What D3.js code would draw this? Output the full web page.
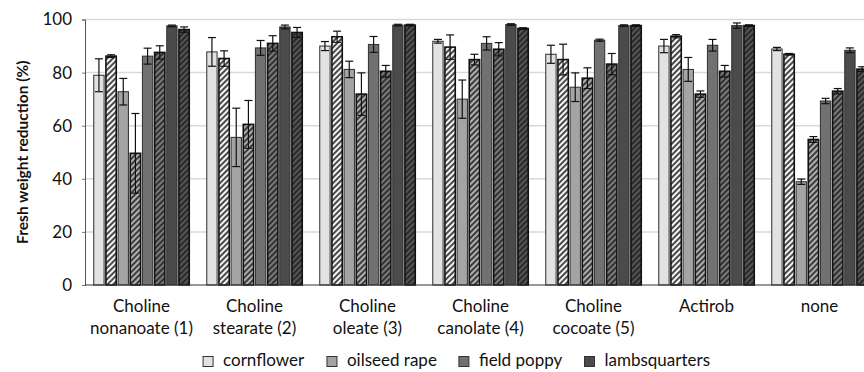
<!DOCTYPE html>
<html>
<head>
<meta charset="utf-8">
<script src="https://cdn.jsdelivr.net/npm/d3@7"></script>
<style>
  body { margin: 0; background: #fff; }
  text { font-family: Lato, "Open Sans", sans-serif; fill: #111; }
</style>
</head>
<body>
<svg id="chart" width="864" height="372"></svg>
<script>
// Treatments (x groups), wrapped onto two lines
const categories = [
  ["Choline", "nonanoate (1)"],
  ["Choline", "stearate (2)"],
  ["Choline", "oleate (3)"],
  ["Choline", "canolate (4)"],
  ["Choline", "cocoate (5)"],
  ["Actirob"],
  ["none"]
];
const species = ["cornflower", "oilseed rape", "field poppy", "lambsquarters"];
const yTicks = [0, 20, 40, 60, 80, 100];

// Fresh weight reduction (%) per treatment; trial 1 = plain bars, trial 2 = hatched bars
const cornflowerTrial1 = [79.0, 87.8, 90.0, 91.8, 86.9, 90.0, 88.9];
const cornflowerTrial1Err = [6.2, 5.4, 1.7, 0.7, 3.4, 2.5, 0.6];
const cornflowerTrial2 = [86.2, 85.3, 93.5, 89.6, 84.9, 93.7, 86.9];
const cornflowerTrial2Err = [0.5, 2.9, 2.1, 4.6, 5.8, 0.6, 0.3];
const oilseedTrial1 = [72.8, 55.6, 81.2, 70.0, 74.5, 81.2, 38.9];
const oilseedTrial1Err = [5.0, 11.0, 3.1, 7.2, 5.4, 4.5, 1.0];
const oilseedTrial2 = [49.6, 60.5, 71.9, 84.9, 77.9, 71.9, 54.8];
const oilseedTrial2Err = [15.0, 9.0, 8.0, 2.0, 3.9, 1.2, 1.1];
const poppyTrial1 = [86.2, 89.3, 90.6, 91.0, 92.2, 90.3, 69.3];
const poppyTrial1Err = [3.0, 2.8, 3.0, 2.5, 0.4, 2.2, 1.0];
const poppyTrial2 = [87.6, 91.0, 80.5, 88.8, 83.2, 80.5, 73.0];
const poppyTrial2Err = [2.5, 2.9, 2.2, 2.5, 4.0, 2.2, 1.0];
const lambsTrial1 = [97.6, 97.2, 97.9, 98.1, 97.7, 97.7, 88.4];
const lambsTrial1Err = [0.3, 0.7, 0.3, 0.3, 0.3, 1.0, 0.9];
const lambsTrial2 = [96.2, 95.1, 97.9, 96.6, 97.7, 97.7, 81.3];
const lambsTrial2Err = [1.0, 1.9, 0.3, 0.3, 0.3, 0.3, 0.9];

// Bar order inside each group
const series = [
  { sp: 0, hatched: false, values: cornflowerTrial1, err: cornflowerTrial1Err },
  { sp: 0, hatched: true,  values: cornflowerTrial2, err: cornflowerTrial2Err },
  { sp: 1, hatched: false, values: oilseedTrial1, err: oilseedTrial1Err },
  { sp: 1, hatched: true,  values: oilseedTrial2, err: oilseedTrial2Err },
  { sp: 2, hatched: false, values: poppyTrial1, err: poppyTrial1Err },
  { sp: 2, hatched: true,  values: poppyTrial2, err: poppyTrial2Err },
  { sp: 3, hatched: false, values: lambsTrial1, err: lambsTrial1Err },
  { sp: 3, hatched: true,  values: lambsTrial2, err: lambsTrial2Err }
];

const speciesFill = ["#e2e2e2", "#a4a4a4", "#717171", "#4b4b4b"];
const hatchBg = ["#f4f4f4", "#b0b0b0", "#7a7a7a", "#555555"];

const svg = d3.select("#chart");
svg.append("rect").attr("width", 864).attr("height", 372).attr("fill", "#fff");

const defs = svg.append("defs");
speciesFill.forEach((c, i) => {
  const p = defs.append("pattern")
    .attr("id", "hatch" + i)
    .attr("patternUnits", "userSpaceOnUse")
    .attr("width", 4).attr("height", 4)
    .attr("patternTransform", "rotate(45)");
  p.append("rect").attr("width", 4).attr("height", 4).attr("fill", hatchBg[i]);
  p.append("line").attr("x1", 1).attr("y1", 0).attr("x2", 1).attr("y2", 4)
    .attr("stroke", "#1e1e1e").attr("stroke-width", 1.6);
});

const plot = { left: 85, top: 19.5, bottom: 285, groupStep: 113 };
const x0 = d3.scaleBand()
  .domain(d3.range(categories.length))
  .range([plot.left, plot.left + plot.groupStep * categories.length])
  .padding(0);
const x1 = d3.scaleBand()
  .domain(d3.range(series.length))
  .range([0, x0.bandwidth()])
  .paddingInner(0.15)
  .paddingOuter(0.72);
const y = d3.scaleLinear().domain([0, 100]).range([plot.bottom, plot.top]);

// Gridlines
svg.append("g").selectAll("line").data(yTicks.filter(t => t > 0)).join("line")
  .attr("x1", plot.left).attr("x2", x0.range()[1])
  .attr("y1", d => y(d)).attr("y2", d => y(d))
  .attr("stroke", "#d9d9d9").attr("stroke-width", 1.5);

// Y axis
const yAxis = svg.append("g")
  .attr("transform", `translate(${plot.left},0)`)
  .call(d3.axisLeft(y).tickValues(yTicks).tickSize(3).tickPadding(10));
yAxis.select(".domain").attr("stroke", "#555").attr("stroke-width", 1);
yAxis.selectAll(".tick line").attr("stroke", "#777");
yAxis.selectAll(".tick text").style("font-size", "17px").attr("fill", "#111")
  .style("font-family", "Lato, sans-serif");

// Bars
const groups = svg.append("g").selectAll("g").data(categories).join("g")
  .attr("transform", (d, i) => `translate(${x0(i)},0)`);

groups.each(function (cat, gi) {
  const g = d3.select(this);
  series.forEach((s, si) => {
    const v = s.values[gi];
    g.append("rect")
      .attr("x", x1(si)).attr("width", x1.bandwidth())
      .attr("y", y(v)).attr("height", y(0) - y(v))
      .attr("fill", s.hatched ? `url(#hatch${s.sp})` : speciesFill[s.sp])
      .attr("stroke", s.hatched ? "#111" : "#2e2e2e")
      .attr("stroke-width", s.hatched ? 1.6 : 1);
  });
  // Error bars
  series.forEach((s, si) => {
    const v = s.values[gi], e = s.err[gi];
    const cx = x1(si) + x1.bandwidth() / 2;
    const eb = g.append("g").attr("stroke", "#111").attr("stroke-width", 1.2);
    eb.append("line").attr("x1", cx).attr("x2", cx).attr("y1", y(v + e)).attr("y2", y(v - e));
    [v + e, v - e].forEach(t => {
      eb.append("line").attr("x1", cx - 4).attr("x2", cx + 4).attr("y1", y(t)).attr("y2", y(t));
    });
  });
});

// Baseline
svg.append("line")
  .attr("x1", plot.left).attr("x2", x0.range()[1])
  .attr("y1", y(0)).attr("y2", y(0))
  .attr("stroke", "#333").attr("stroke-width", 1.2);

// Category labels
const xl = svg.append("g");
categories.forEach((lines, i) => {
  const cx = x0(i) + x0.bandwidth() / 2;
  const t = xl.append("text").attr("text-anchor", "middle").style("font-size", "17px");
  lines.forEach((ln, k) => {
    t.append("tspan").attr("x", cx).attr("y", 312 + k * 21.5).text(ln);
  });
});

// Y title
svg.append("text")
  .attr("transform", `translate(28,${(plot.top + plot.bottom) / 2}) rotate(-90)`)
  .attr("text-anchor", "middle")
  .style("font-size", "15.5px").style("font-weight", "bold")
  .text("Fresh weight reduction (%)");

// Legend
const legend = svg.append("g");
const legendItems = species.map((name, i) => {
  const item = legend.append("g");
  item.append("rect").attr("x", 0).attr("y", -9.5).attr("width", 10).attr("height", 10)
    .attr("fill", speciesFill[i]).attr("stroke", "#333").attr("stroke-width", 1);
  item.append("text").attr("x", 20).attr("y", 0).style("font-size", "17px").text(name);
  return item;
});
let lx = 0;
const widths = legendItems.map(it => it.node().getBBox().width);
legendItems.forEach((it, i) => { it.attr("transform", `translate(${lx},0)`); lx += widths[i] + 22; });
const totalW = lx - 22;
const legendEnd = 710;
legend.attr("transform", `translate(${legendEnd - totalW},366)`);
</script>
</body>
</html>
